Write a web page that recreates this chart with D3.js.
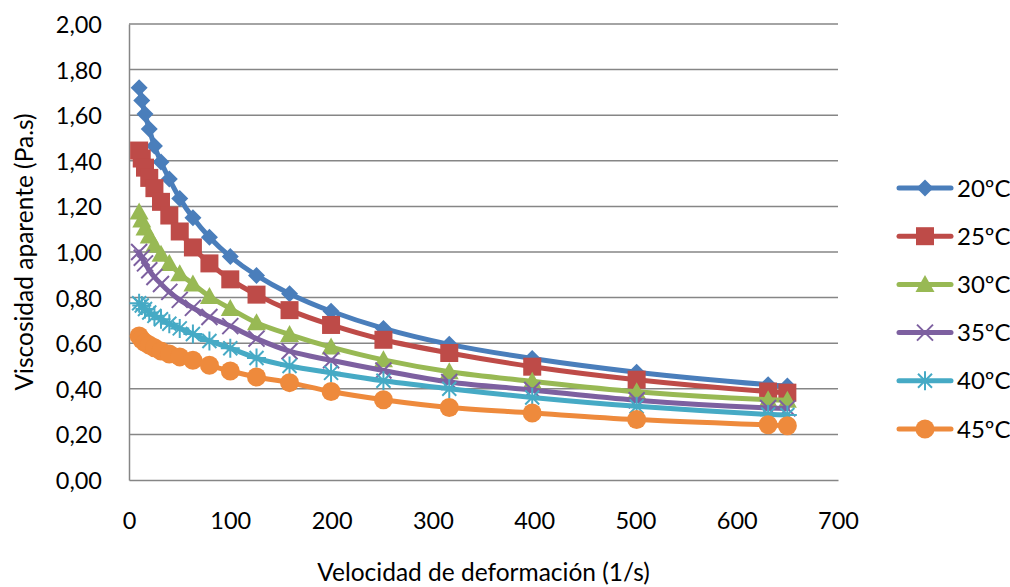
<!DOCTYPE html>
<html>
<head>
<meta charset="utf-8">
<script src="https://cdn.jsdelivr.net/npm/d3@7"></script>
<style>
  html, body { margin: 0; padding: 0; background: #ffffff; }
  svg { display: block; font-family: Lato, "Open Sans", sans-serif; }
</style>
</head>
<body>
<svg id="chart" width="1010" height="587"></svg>
<script>
// Shear rate (1/s)
const shearRate = [10, 12.6, 15.8, 20, 25.1, 31.6, 39.8, 50.1, 63.1, 79.4, 100, 125.9, 158.5, 199.5, 251.2, 316.2, 398.1, 501.2, 631, 650];

// Apparent viscosity (Pa.s) at each temperature
const visc20 = [1.72, 1.665, 1.605, 1.54, 1.465, 1.395, 1.32, 1.235, 1.15, 1.065, 0.98, 0.897, 0.817, 0.74, 0.665, 0.595, 0.533, 0.473, 0.418, 0.412];
const visc25 = [1.445, 1.41, 1.37, 1.325, 1.28, 1.22, 1.16, 1.09, 1.02, 0.95, 0.88, 0.813, 0.745, 0.68, 0.615, 0.557, 0.497, 0.44, 0.388, 0.383];
const visc30 = [1.175, 1.14, 1.105, 1.07, 1.03, 0.99, 0.95, 0.905, 0.86, 0.805, 0.752, 0.69, 0.638, 0.583, 0.527, 0.475, 0.433, 0.387, 0.352, 0.35];
const visc35 = [1.0, 0.975, 0.95, 0.92, 0.89, 0.86, 0.825, 0.79, 0.755, 0.715, 0.675, 0.62, 0.565, 0.525, 0.48, 0.43, 0.395, 0.35, 0.316, 0.314];
const visc40 = [0.775, 0.765, 0.75, 0.735, 0.72, 0.705, 0.685, 0.665, 0.64, 0.61, 0.578, 0.535, 0.5, 0.47, 0.435, 0.4, 0.362, 0.323, 0.288, 0.285];
const visc45 = [0.632, 0.615, 0.603, 0.592, 0.58, 0.566, 0.553, 0.54, 0.525, 0.503, 0.478, 0.452, 0.427, 0.388, 0.352, 0.318, 0.294, 0.265, 0.242, 0.238];

const seriesNames = ["20ºC", "25ºC", "30ºC", "35ºC", "40ºC", "45ºC"];
const seriesValues = [visc20, visc25, visc30, visc35, visc40, visc45];
const seriesColors = ["#4a7ebb", "#be4b48", "#98b954", "#7d60a0", "#46aac5", "#ee8a3c"];
const seriesMarkers = ["diamond", "square", "triangle", "cross", "star", "circle"];

const xTicks = [0, 100, 200, 300, 400, 500, 600, 700];
const yTicks = [0, 0.2, 0.4, 0.6, 0.8, 1.0, 1.2, 1.4, 1.6, 1.8, 2.0];

const svg = d3.select("#chart");
const plot = { left: 129, right: 838, top: 24, bottom: 480 };

const x = d3.scaleLinear().domain([0, 700]).range([plot.left, plot.right]);
const y = d3.scaleLinear().domain([0, 2]).range([plot.bottom, plot.top]);

const gridColor = "#868686";
const fmt = v => d3.format(".2f")(v).replace(".", ",");

// Horizontal gridlines
svg.append("g")
  .selectAll("line")
  .data(yTicks.filter(t => t > 0))
  .join("line")
  .attr("x1", plot.left).attr("x2", plot.right)
  .attr("y1", d => y(d)).attr("y2", d => y(d))
  .attr("stroke", gridColor).attr("stroke-width", 1.5);

// Axes (lines only, no tick marks)
const yAxis = d3.axisLeft(y).tickValues(yTicks).tickFormat(fmt).tickSize(0).tickPadding(27);
const xAxis = d3.axisBottom(x).tickValues(xTicks).tickFormat(d3.format("d")).tickSize(0).tickPadding(32);

const gy = svg.append("g").attr("transform", `translate(${plot.left},0)`).call(yAxis);
const gx = svg.append("g").attr("transform", `translate(0,${plot.bottom})`).call(xAxis);

[gx, gy].forEach(g => {
  g.select(".domain").attr("stroke", gridColor).attr("stroke-width", 1.5);
  g.selectAll("text").attr("font-family", "Lato, sans-serif").attr("font-size", 23.5).attr("fill", "#000");
});
gy.selectAll("text").attr("dy", "0.36em");

// Axis titles
svg.append("text")
  .attr("x", (plot.left + plot.right) / 2)
  .attr("y", 581)
  .attr("text-anchor", "middle")
  .attr("font-size", 24.5)
  .attr("fill", "#000")
  .text("Velocidad de deformación (1/s)");

svg.append("text")
  .attr("transform", `translate(33,${(plot.top + plot.bottom) / 2}) rotate(-90)`)
  .attr("text-anchor", "middle")
  .attr("font-size", 24.5)
  .attr("fill", "#000")
  .text("Viscosidad aparente (Pa.s)");

// Marker drawing
function drawMarker(g, type, color) {
  switch (type) {
    case "diamond":
      g.append("path").attr("d", "M0,-8.5L8.5,0L0,8.5L-8.5,0Z").attr("fill", color);
      break;
    case "square":
      g.append("path").attr("d", "M-9,-9h18v18h-18Z").attr("fill", color);
      break;
    case "triangle":
      g.append("path").attr("d", "M0,-9.5L9.5,7.5L-9.5,7.5Z").attr("fill", color);
      break;
    case "cross":
      g.append("path").attr("d", "M-8,-8L8,8M-8,8L8,-8")
        .attr("stroke", color).attr("stroke-width", 2).attr("fill", "none");
      break;
    case "star":
      g.append("path").attr("d", "M-7,-7L7,7M-7,7L7,-7M0,-9.5V9.5M-9.5,0H9.5")
        .attr("stroke", color).attr("stroke-width", 2).attr("fill", "none");
      break;
    case "circle":
      g.append("circle").attr("r", 9.5).attr("fill", color);
      break;
  }
}

const line = d3.line()
  .x(d => x(d[0]))
  .y(d => y(d[1]))
  .curve(d3.curveCatmullRom.alpha(0.5));

// Series: smoothed line then markers
seriesValues.forEach((vals, i) => {
  const pts = shearRate.map((s, j) => [s, vals[j]]);
  const g = svg.append("g");
  g.append("path")
    .datum(pts)
    .attr("d", line)
    .attr("fill", "none")
    .attr("stroke", seriesColors[i])
    .attr("stroke-width", 5)
    .attr("stroke-linecap", "round")
    .attr("stroke-linejoin", "round");
  g.selectAll("g.m")
    .data(pts)
    .join("g")
    .attr("class", "m")
    .attr("transform", d => `translate(${x(d[0])},${y(d[1])})`)
    .each(function () { drawMarker(d3.select(this), seriesMarkers[i], seriesColors[i]); });
});

// Legend
const legend = svg.append("g");
seriesNames.forEach((name, i) => {
  const ly = 188 + i * 48.2;
  const item = legend.append("g").attr("transform", `translate(0,${ly})`);
  item.append("line")
    .attr("x1", 899).attr("x2", 951)
    .attr("y1", 0).attr("y2", 0)
    .attr("stroke", seriesColors[i]).attr("stroke-width", 5).attr("stroke-linecap", "round");
  drawMarker(item.append("g").attr("transform", "translate(925,0)"), seriesMarkers[i], seriesColors[i]);
  item.append("text")
    .attr("x", 957).attr("y", 0).attr("dy", "0.36em")
    .attr("font-size", 24).attr("fill", "#000")
    .text(name);
});
</script>
</body>
</html>
